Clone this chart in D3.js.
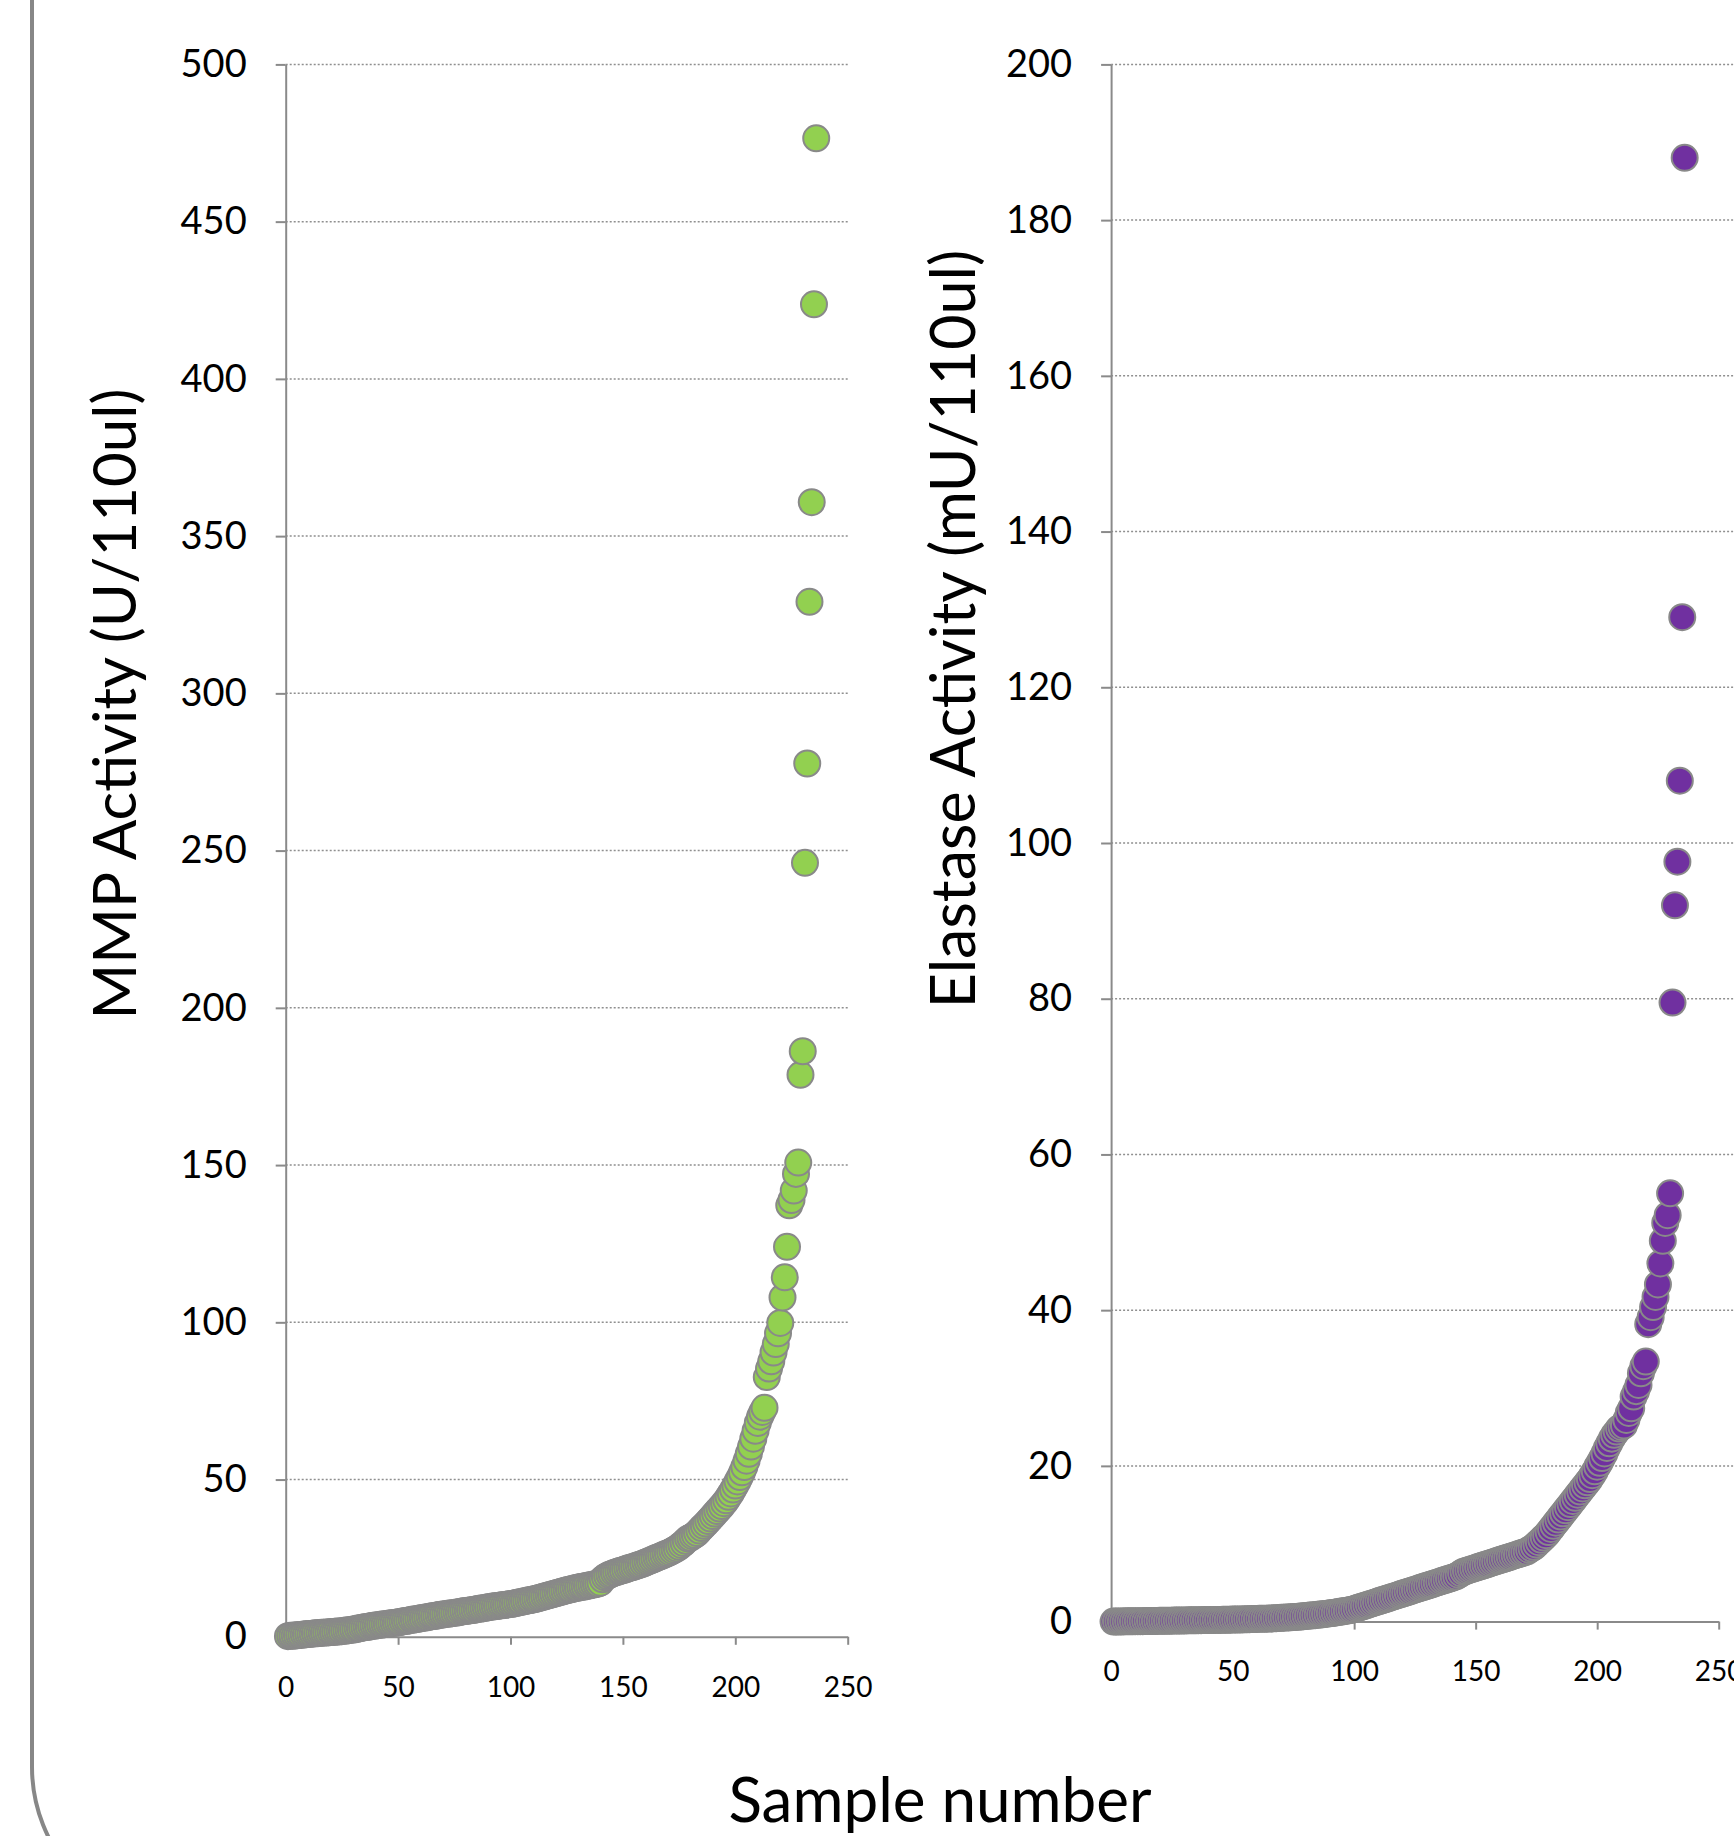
<!DOCTYPE html>
<html>
<head>
<meta charset="utf-8">
<script src="https://cdn.jsdelivr.net/npm/d3@7"></script>
<style>
  html, body { margin: 0; padding: 0; background: #fff; }
  svg { display: block; font-family: Lato, "Open Sans", sans-serif; }
</style>
</head>
<body>
<div id="chart"></div>
<script>
// MMP activity per sample, sorted ascending (samples 1..236)
const mmpValues = [
  0.2, 0.3, 0.3, 0.4, 0.5, 0.6, 0.6, 0.7, 0.8, 0.9,
  0.9, 1.0, 1.1, 1.1, 1.2, 1.3, 1.3, 1.4, 1.4, 1.5,
  1.5, 1.6, 1.7, 1.7, 1.8, 1.9, 2.0, 2.1, 2.2, 2.3,
  2.4, 2.6, 2.7, 2.9, 3.0, 3.1, 3.2, 3.4, 3.5, 3.6,
  3.7, 3.8, 3.9, 4.0, 4.1, 4.2, 4.3, 4.4, 4.5, 4.6,
  4.7, 4.9, 5.0, 5.1, 5.2, 5.4, 5.5, 5.6, 5.7, 5.9,
  6.0, 6.1, 6.2, 6.4, 6.5, 6.6, 6.7, 6.9, 7.0, 7.1,
  7.2, 7.3, 7.4, 7.5, 7.6, 7.7, 7.8, 8.0, 8.1, 8.2,
  8.3, 8.4, 8.5, 8.6, 8.8, 8.9, 9.0, 9.1, 9.2, 9.4,
  9.5, 9.6, 9.7, 9.8, 9.9, 10.0, 10.1, 10.2, 10.3, 10.4,
  10.5, 10.7, 10.8, 11.0, 11.1, 11.3, 11.4, 11.6, 11.7, 11.9,
  12.0, 12.2, 12.4, 12.6, 12.8, 13.0, 13.2, 13.4, 13.6, 13.8,
  14.0, 14.2, 14.4, 14.6, 14.8, 15.0, 15.1, 15.3, 15.5, 15.6,
  15.8, 15.9, 16.0, 16.2, 16.3, 16.5, 16.6, 16.8, 16.9, 17.2,
  18.3, 18.9, 19.3, 19.7, 20.0, 20.3, 20.5, 20.8, 21.0, 21.2,
  21.4, 21.7, 21.9, 22.1, 22.3, 22.6, 22.8, 23.0, 23.3, 23.6,
  23.9, 24.2, 24.5, 24.8, 25.1, 25.4, 25.7, 26.0, 26.3, 26.6,
  26.9, 27.3, 27.7, 28.1, 28.6, 29.2, 29.8, 30.5, 31.2, 31.5,
  32.0, 32.4, 33.0, 33.8, 34.6, 35.3, 36.0, 36.8, 37.6, 38.4,
  39.2, 40.0, 40.8, 41.6, 42.5, 43.4, 44.5, 45.6, 46.8, 48.1,
  49.4, 50.8, 52.3, 54.0, 56.0, 58.2, 60.5, 63.0, 65.5, 68.0,
  70.0, 71.5, 72.8, 82.6, 85.3, 87.6, 90.4, 93.1, 96.5, 99.8,
  107.9, 114.3, 124.0, 137.2, 138.9, 141.9, 147.2, 150.8, 178.7, 186.2,
  246.1, 277.7, 329.1, 360.8, 423.7, 476.5
];

// Elastase activity per sample, sorted ascending (samples 1..236)
const elastaseValues = [
  0.00, 0.01, 0.01, 0.02, 0.02, 0.03, 0.03, 0.04, 0.04, 0.05,
  0.05, 0.06, 0.06, 0.07, 0.07, 0.08, 0.08, 0.09, 0.09, 0.10,
  0.10, 0.11, 0.11, 0.12, 0.12, 0.13, 0.13, 0.14, 0.14, 0.15,
  0.15, 0.16, 0.16, 0.17, 0.17, 0.18, 0.18, 0.19, 0.19, 0.20,
  0.20, 0.21, 0.21, 0.22, 0.22, 0.23, 0.24, 0.24, 0.25, 0.26,
  0.26, 0.27, 0.28, 0.28, 0.29, 0.30, 0.31, 0.32, 0.33, 0.34,
  0.35, 0.36, 0.37, 0.38, 0.39, 0.41, 0.42, 0.44, 0.46, 0.48,
  0.50, 0.52, 0.54, 0.56, 0.58, 0.60, 0.62, 0.65, 0.68, 0.71,
  0.74, 0.77, 0.80, 0.83, 0.87, 0.90, 0.94, 0.98, 1.02, 1.06,
  1.10, 1.15, 1.20, 1.25, 1.30, 1.35, 1.40, 1.45, 1.52, 1.60,
  1.70, 1.80, 1.90, 2.00, 2.10, 2.20, 2.30, 2.40, 2.50, 2.60,
  2.70, 2.80, 2.90, 3.00, 3.10, 3.20, 3.30, 3.40, 3.50, 3.60,
  3.70, 3.80, 3.90, 4.00, 4.10, 4.20, 4.30, 4.40, 4.50, 4.60,
  4.70, 4.80, 4.90, 5.00, 5.10, 5.20, 5.30, 5.40, 5.50, 5.60,
  5.70, 5.80, 6.00, 6.20, 6.40, 6.50, 6.60, 6.70, 6.80, 6.90,
  7.00, 7.10, 7.20, 7.30, 7.40, 7.50, 7.60, 7.70, 7.80, 7.90,
  8.00, 8.10, 8.20, 8.30, 8.40, 8.50, 8.60, 8.70, 8.80, 8.90,
  9.00, 9.20, 9.40, 9.60, 9.90, 10.20, 10.50, 10.80, 11.10, 11.50,
  11.90, 12.30, 12.70, 13.10, 13.50, 13.90, 14.30, 14.70, 15.10, 15.50,
  15.90, 16.30, 16.70, 17.10, 17.50, 17.90, 18.30, 18.80, 19.30, 19.90,
  20.40, 21.00, 21.60, 22.30, 22.90, 23.50, 24.00, 24.40, 24.80, 25.00,
  25.20, 25.90, 26.80, 27.40, 28.90, 29.60, 30.40, 31.90, 32.80, 33.40,
  38.20, 39.10, 40.40, 41.70, 43.30, 46.00, 48.90, 51.20, 52.20, 55.00,
  79.5, 92.0, 97.6, 108.0, 129.0, 188.0
];

const xTicks = [0, 50, 100, 150, 200, 250];
const mmpTicks = [0, 50, 100, 150, 200, 250, 300, 350, 400, 450, 500];
const elastaseTicks = [0, 20, 40, 60, 80, 100, 120, 140, 160, 180, 200];

const chartWidth = 1734;
const chartHeight = 1836;

const svg = d3.select('#chart')
    .append('svg')
    .attr('width', chartWidth)
    .attr('height', chartHeight);

svg.append('rect')
    .attr('width', chartWidth)
    .attr('height', chartHeight)
    .attr('fill', '#fff');

// rounded frame, only its left side and lower-left corner are visible
svg.append('path')
    .attr('d', 'M32,-10 V1767 A157,157 0 0 0 189,1924')
    .attr('fill', 'none')
    .attr('stroke', '#878787')
    .attr('stroke-width', 4);

function drawPanel(opts) {
    const xScale = d3.scaleLinear().domain([0, 250]).range(opts.xRange);
    const yScale = d3.scaleLinear().domain(opts.yDomain).range(opts.yRange);
    const g = svg.append('g');

    // dotted gridlines
    g.selectAll('line.grid')
        .data(opts.yTicks.slice(1))
        .enter()
        .append('line')
        .attr('class', 'grid')
        .attr('x1', opts.xRange[0])
        .attr('x2', opts.gridEnd)
        .attr('y1', d => yScale(d))
        .attr('y2', d => yScale(d))
        .attr('stroke', '#8f8f8f')
        .attr('stroke-width', 1.5)
        .attr('stroke-dasharray', '2,2');

    const yAxis = g.append('g')
        .attr('transform', `translate(${opts.xRange[0]},0)`)
        .call(d3.axisLeft(yScale).tickValues(opts.yTicks).tickSize(10).tickPadding(29).tickSizeOuter(0));

    const xAxis = g.append('g')
        .attr('transform', `translate(0,${opts.yRange[0]})`)
        .call(d3.axisBottom(xScale).tickValues(xTicks).tickSize(8).tickPadding(opts.xPad).tickSizeOuter(0));

    [yAxis, xAxis].forEach(a => {
        a.attr('font-family', 'Lato, "Open Sans", sans-serif');
        a.select('.domain').attr('stroke', '#8a8a8a').attr('stroke-width', 2);
        a.selectAll('.tick line').attr('stroke', '#8a8a8a').attr('stroke-width', 2);
    });
    yAxis.selectAll('text').attr('font-size', 38).attr('fill', '#000');
    xAxis.selectAll('text').attr('font-size', 28).attr('fill', '#000');

    g.selectAll('circle')
        .data(opts.values)
        .enter()
        .append('circle')
        .attr('cx', (d, i) => xScale(i + 1))
        .attr('cy', d => yScale(d))
        .attr('r', 13)
        .attr('fill', opts.color)
        .attr('stroke', '#898989')
        .attr('stroke-width', 2);

    svg.append('text')
        .attr('transform', `translate(${opts.titleX},${opts.titleY}) rotate(-90)`)
        .attr('text-anchor', 'middle')
        .attr('font-size', opts.titleSize)
        .text(opts.title);
}

drawPanel({
    values: mmpValues,
    yDomain: [0, 500],
    yTicks: mmpTicks,
    xRange: [285.7, 847.7],
    yRange: [1636.8, 64.4],
    gridEnd: 847.7,
    xPad: 32,
    color: '#92D050',
    title: 'MMP Activity (U/110ul)',
    titleSize: 60,
    titleX: 136,
    titleY: 704
});

drawPanel({
    values: elastaseValues,
    yDomain: [0, 200],
    yTicks: elastaseTicks,
    xRange: [1111.1, 1718.7],
    yRange: [1621.6, 64.4],
    gridEnd: 1734,
    xPad: 32,
    color: '#7030A0',
    title: 'Elastase Activity (mU/110ul)',
    titleSize: 61,
    titleX: 975,
    titleY: 629
});

svg.append('text')
    .attr('x', 940)
    .attr('y', 1822)
    .attr('text-anchor', 'middle')
    .attr('font-size', 62)
    .text('Sample number');
</script>
</body>
</html>
